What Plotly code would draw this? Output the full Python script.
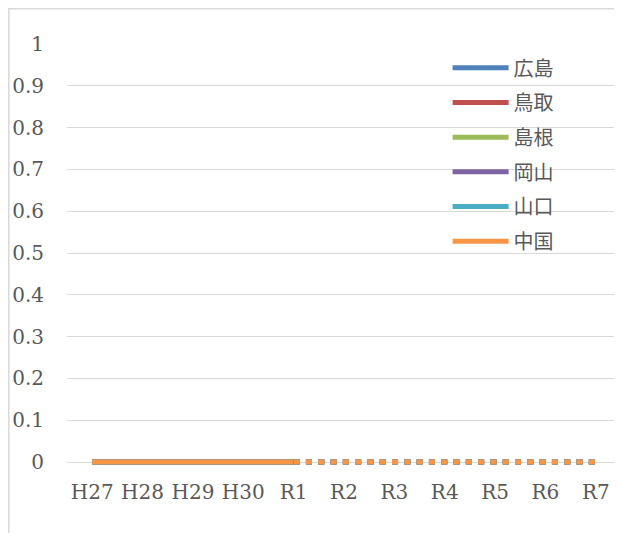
import plotly.graph_objects as go

years = ["H27", "H28", "H29", "H30", "R1", "R2", "R3", "R4", "R5", "R6", "R7"]
regions = ["広島", "鳥取", "島根", "岡山", "山口", "中国"]
colors = ["#4F81BD", "#C0504D", "#9BBB59", "#8064A2", "#4BACC6", "#F79646"]

# actual values H27..R1, forecast R1..R7 (all zero)
actual = {
    "広島": [0, 0, 0, 0, 0],
    "鳥取": [0, 0, 0, 0, 0],
    "島根": [0, 0, 0, 0, 0],
    "岡山": [0, 0, 0, 0, 0],
    "山口": [0, 0, 0, 0, 0],
    "中国": [0, 0, 0, 0, 0],
}
forecast = {
    "広島": [0, 0, 0, 0, 0, 0, 0],
    "鳥取": [0, 0, 0, 0, 0, 0, 0],
    "島根": [0, 0, 0, 0, 0, 0, 0],
    "岡山": [0, 0, 0, 0, 0, 0, 0],
    "山口": [0, 0, 0, 0, 0, 0, 0],
    "中国": [0, 0, 0, 0, 0, 0, 0],
}

fig = go.Figure()
for name, c in zip(regions, colors):
    fig.add_trace(go.Scatter(x=years[:5], y=actual[name], mode="lines", name=name,
                             legendgroup=name, line=dict(color=c, width=5)))
for name, c in zip(regions, colors):
    fig.add_trace(go.Scatter(x=years[4:], y=forecast[name], mode="lines", name=name,
                             legendgroup=name, showlegend=False,
                             line=dict(color=c, width=5, dash="6px,6.3px")))

tick_font = dict(family="DejaVu Serif", size=20, color="#595959")

# page body has an 8px margin, so the figure is 8px smaller and shifted
fig.update_layout(
    width=614, height=525,
    margin=dict(l=59, r=1, t=36, b=64),
    plot_bgcolor="white", paper_bgcolor="white",
    showlegend=True,
    legend=dict(x=0.687, y=0.99, xanchor="left", yanchor="top",
                font=dict(family="Noto Sans CJK JP", size=20, color="#595959"),
                itemwidth=56, tracegroupgap=5.7, bgcolor="rgba(0,0,0,0)"),
    xaxis=dict(type="category", categoryorder="array", categoryarray=years,
               range=[-0.5, 10.5], showgrid=False, showline=False, zeroline=False,
               tickfont=tick_font, ticks="", ticklabelstandoff=9),
    yaxis=dict(range=[-7 / 418, 1], tickvals=[0, 0.1, 0.2, 0.3, 0.4, 0.5, 0.6, 0.7, 0.8, 0.9, 1],
               ticktext=["0", "0.1", "0.2", "0.3", "0.4", "0.5", "0.6", "0.7", "0.8", "0.9", "1"],
               showgrid=True, gridcolor="#D9D9D9", gridwidth=1,
               zeroline=True, zerolinecolor="#D9D9D9", zerolinewidth=1,
               showline=False, tickfont=tick_font, ticks="", ticklabelstandoff=22),
    shapes=[dict(type="rect", xref="paper", yref="paper", layer="below",
                 x0=(0.8 - 59) / 554, x1=(640 - 59) / 554,
                 y0=-(80 / 425), y1=1 + 35.2 / 425,
                 line=dict(color="#D9D9D9", width=1.5))],
)

fig.write_html("out.html")
